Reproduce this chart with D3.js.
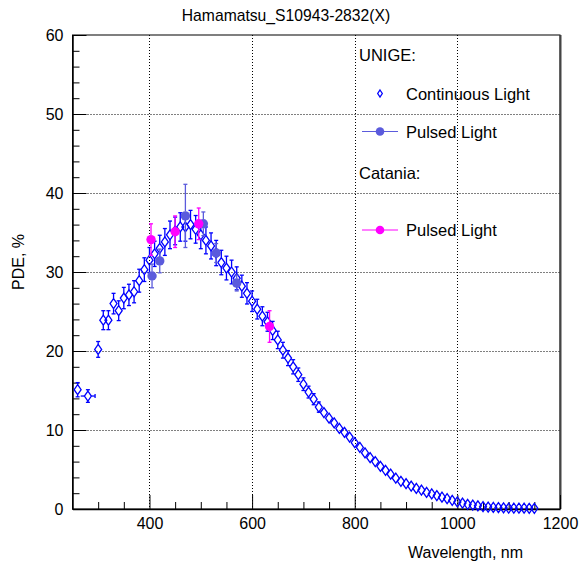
<!DOCTYPE html>
<html>
<head>
<meta charset="utf-8">
<script src="https://cdn.jsdelivr.net/npm/d3@7"></script>
<style>
  body { margin: 0; background: #fff; }
  text { font-family: "Liberation Sans", Arial, Helvetica, sans-serif; fill: #000; }
</style>
</head>
<body>
<svg id="chart" width="579" height="564"></svg>
<script>
// UNIGE continuous light
var contWl = [260, 280,
  300, 310, 320, 330, 340, 350, 360, 370, 380, 390,
  400, 410, 420, 430, 440, 450, 460, 470, 480, 490,
  500, 510, 520, 530, 540, 550, 560, 570, 580, 590,
  600, 610, 620, 630, 640, 650, 660, 670, 680, 690,
  700, 710, 720, 730, 740, 750, 760, 770, 780, 790,
  800, 810, 820, 830, 840, 850, 860, 870, 880, 890,
  900, 910, 920, 930, 940, 950, 960, 970, 980, 990,
  1000, 1010, 1020, 1030, 1040, 1050, 1060, 1070, 1080, 1090,
  1100, 1110, 1120, 1130, 1140, 1150];
var contPde = [15.1, 14.3,
  20.2, 23.9, 23.9, 26.0, 25.1, 26.7, 27.1, 27.5, 28.9, 30.3,
  31.5, 32.3, 33.0, 33.8, 34.7, 35.2, 35.7, 35.7, 36.0, 35.4,
  34.7, 34.0, 33.3, 32.4, 31.2, 30.5, 30.0, 29.2, 28.2, 27.3,
  26.3, 25.3, 24.4, 23.7, 22.6, 21.4, 20.1, 19.1, 18.0, 17.0,
  15.8, 14.8, 13.9, 12.9, 12.2, 11.5, 10.9, 10.2, 9.7, 9.1,
  8.4, 7.8, 7.1, 6.5, 6.0, 5.4, 4.9, 4.4, 3.9, 3.5,
  3.2, 2.9, 2.6, 2.4, 2.1, 1.9, 1.7, 1.5, 1.3, 1.1,
  0.9, 0.75, 0.6, 0.5, 0.4, 0.3, 0.25, 0.2, 0.18, 0.15,
  0.12, 0.1, 0.1, 0.1, 0.08, 0.08];
var contErr = [0.9, 0.8,
  1.0, 1.2, 1.2, 1.3, 1.25, 1.35, 1.35, 1.4, 1.45, 1.5,
  1.6, 1.6, 1.65, 1.7, 1.75, 1.75, 1.8, 1.8, 1.8, 1.75,
  1.75, 1.7, 1.65, 1.6, 1.55, 1.5, 1.5, 1.45, 1.4, 1.35,
  1.3, 1.25, 1.2, 1.2, 1.15, 1.1, 1.0, 0.95, 0.9, 0.85,
  0.8, 0.75, 0.7, 0.65, 0.6, 0.6, 0.55, 0.5, 0.5, 0.45,
  0.4, 0.4, 0.35, 0.3, 0.3, 0.3, 0.25, 0.2, 0.2, 0.2,
  0.15, 0.15, 0.1, 0.1, 0.1, 0.1, 0.1, 0.1, 0.1, 0.1,
  0.1, 0.1, 0.1, 0.1, 0.1, 0.1, 0.1, 0.1, 0.1, 0.1,
  0.1, 0.1, 0.1, 0.1, 0.1, 0.1];
// horizontal error only on the second point
var contXErr = [0, 14];

// UNIGE pulsed light
var unigeWl = [405, 420, 470, 505, 530, 570];
var unigePde = [29.5, 31.4, 37.1, 36.1, 32.4, 28.6];
var unigeErr = [1.5, 1.5, 4.0, 1.5, 1.2, 1.0];

// Catania pulsed light
var cataniaWl = [403, 450, 496, 634];
var cataniaPde = [34.1, 35.1, 36.1, 23.1];
var cataniaErr = [2.0, 2.0, 2.0, 2.0];

var xMajor = [400, 600, 800, 1000, 1200];
var yMajor = [0, 10, 20, 30, 40, 50, 60];

var pLeft = 72.5, pRight = 560, pTop = 35, pBottom = 509;
var blue = "#0000ff", unigeColor = "#5b5bdc", magenta = "#ff00ff";

var svg = d3.select("#chart");

var x = d3.scaleLinear().domain([250, 1200]).range([pLeft, pRight]);
var y = d3.scaleLinear().domain([0, 60]).range([pBottom, pTop]);

// grid
var grid = svg.append("g")
    .attr("stroke", "#000")
    .attr("stroke-width", 1)
    .attr("stroke-dasharray", "1,2");
grid.selectAll(".gx").data(xMajor.filter(function(d) { return d < 1200; }))
  .enter().append("line")
    .attr("x1", function(d) { return Math.round(x(d)) + 0.5; })
    .attr("x2", function(d) { return Math.round(x(d)) + 0.5; })
    .attr("y1", pTop).attr("y2", pBottom);
grid.selectAll(".gy").data(yMajor.filter(function(d) { return d > 0 && d < 60; }))
  .enter().append("line")
    .attr("y1", function(d) { return Math.round(y(d)) + 0.5; })
    .attr("y2", function(d) { return Math.round(y(d)) + 0.5; })
    .attr("x1", pLeft).attr("x2", pRight);

// frame
svg.append("rect")
    .attr("x", pLeft).attr("y", pTop)
    .attr("width", pRight - pLeft).attr("height", pBottom - pTop)
    .attr("fill", "none").attr("stroke", "#000").attr("stroke-width", 1);
svg.append("line")
    .attr("x1", pRight + 0.5).attr("x2", pRight + 0.5)
    .attr("y1", pTop).attr("y2", pBottom)
    .attr("stroke", "#444").attr("stroke-width", 2);

// x axis, ticks inside
var xMinor = d3.range(300, 1200, 50).filter(function(d) { return d % 200 != 0; });
svg.append("g")
    .attr("transform", "translate(0," + pBottom + ")")
    .call(d3.axisBottom(x).tickValues(xMinor).tickSizeInner(-7).tickSizeOuter(0).tickFormat(""))
    .call(function(g) { g.select(".domain").remove(); });
var xAxis = svg.append("g")
    .attr("transform", "translate(0," + pBottom + ")")
    .call(d3.axisBottom(x).tickValues(xMajor).tickSizeInner(-14).tickSizeOuter(0)
      .tickPadding(9).tickFormat(d3.format("d")));
xAxis.select(".domain").attr("stroke-width", 1.5);
xAxis.selectAll("text").style("font-size", "16px");
xAxis.attr("font-family", null);

// y axis
var yMinor = d3.range(2, 60, 2).filter(function(d) { return d % 10 != 0; });
svg.append("g")
    .attr("transform", "translate(" + pLeft + ",0)")
    .call(d3.axisLeft(y).tickValues(yMinor).tickSizeInner(-7).tickSizeOuter(0).tickFormat(""))
    .call(function(g) { g.select(".domain").remove(); });
var yAxis = svg.append("g")
    .attr("transform", "translate(" + pLeft + ",0)")
    .call(d3.axisLeft(y).tickValues(yMajor).tickSizeInner(-14).tickSizeOuter(0).tickPadding(9));
yAxis.select(".domain").attr("stroke-width", 1.5);
yAxis.selectAll("text").style("font-size", "16px");
yAxis.attr("font-family", null);

// titles
svg.append("text")
    .attr("x", 286).attr("y", 21)
    .style("text-anchor", "middle")
    .style("font-size", "15.7px")
    .text("Hamamatsu_S10943-2832(X)");
svg.append("text")
    .attr("x", 523).attr("y", 558)
    .style("text-anchor", "end")
    .style("font-size", "16px")
    .text("Wavelength, nm");
svg.append("text")
    .attr("transform", "translate(24,262) rotate(-90)")
    .style("text-anchor", "middle")
    .style("font-size", "16px")
    .text("PDE, %");

// error bars drawn outside the marker, with small caps
function errorBars(g, xs, ys, es, color, gap) {
  var cap = 2;
  xs.forEach(function(wl, i) {
    var cx = x(wl), cy = y(ys[i]);
    var yt = y(ys[i] + es[i]), yb = y(ys[i] - es[i]);
    if (cy - yt > gap) {
      g.append("line").attr("x1", cx).attr("x2", cx).attr("y1", yt).attr("y2", cy - gap);
      g.append("line").attr("x1", cx - cap).attr("x2", cx + cap).attr("y1", yt).attr("y2", yt);
    }
    if (yb - cy > gap) {
      g.append("line").attr("x1", cx).attr("x2", cx).attr("y1", cy + gap).attr("y2", yb);
      g.append("line").attr("x1", cx - cap).attr("x2", cx + cap).attr("y1", yb).attr("y2", yb);
    }
  });
  g.attr("stroke", color).attr("stroke-width", 1.3);
}

function diamond(cx, cy, w, h) {
  return "M" + cx + "," + (cy - h) + "L" + (cx + w) + "," + cy +
    "L" + cx + "," + (cy + h) + "L" + (cx - w) + "," + cy + "Z";
}

// continuous light
var cont = svg.append("g");
errorBars(cont.append("g"), contWl, contPde, contErr, blue, 5);
contXErr.forEach(function(e, i) {
  if (!e) return;
  var cy = y(contPde[i]);
  cont.append("line")
      .attr("x1", x(contWl[i] - e)).attr("x2", x(contWl[i]) - 3.5)
      .attr("y1", cy).attr("y2", cy);
  cont.append("line")
      .attr("x1", x(contWl[i]) + 3.5).attr("x2", x(contWl[i] + e))
      .attr("y1", cy).attr("y2", cy);
  cont.append("line")
      .attr("x1", x(contWl[i] + e)).attr("x2", x(contWl[i] + e))
      .attr("y1", cy - 2).attr("y2", cy + 2);
});
cont.selectAll("line").attr("stroke", blue).attr("stroke-width", 1.3);
cont.selectAll(".m").data(contWl)
  .enter().append("path")
    .attr("d", function(d, i) { return diamond(x(d), y(contPde[i]), 3.5, 5); })
    .attr("fill", "none")
    .attr("stroke", blue)
    .attr("stroke-width", 1.3);

// UNIGE pulsed
var unige = svg.append("g");
errorBars(unige.append("g"), unigeWl, unigePde, unigeErr, unigeColor, 4.5);
unige.selectAll("circle").data(unigeWl)
  .enter().append("circle")
    .attr("cx", function(d) { return x(d); })
    .attr("cy", function(d, i) { return y(unigePde[i]); })
    .attr("r", 4.7)
    .attr("fill", unigeColor);

// Catania pulsed
var catania = svg.append("g");
errorBars(catania.append("g"), cataniaWl, cataniaPde, cataniaErr, magenta, 4.5);
catania.selectAll("circle").data(cataniaWl)
  .enter().append("circle")
    .attr("cx", function(d) { return x(d); })
    .attr("cy", function(d, i) { return y(cataniaPde[i]); })
    .attr("r", 4.7)
    .attr("fill", magenta);

// legend
var legend = svg.append("g").style("font-size", "16.5px");
legend.append("text").attr("x", 359).attr("y", 61).text("UNIGE:");
legend.append("path")
    .attr("d", diamond(380, 93.5, 2.3, 3.5))
    .attr("fill", "none").attr("stroke", blue).attr("stroke-width", 1.3);
legend.append("text").attr("x", 406).attr("y", 99.5).text("Continuous Light");
legend.append("line")
    .attr("x1", 362).attr("x2", 398).attr("y1", 131.5).attr("y2", 131.5)
    .attr("stroke", unigeColor).attr("stroke-width", 1.2);
legend.append("circle").attr("cx", 380).attr("cy", 131.5).attr("r", 4.3).attr("fill", unigeColor);
legend.append("text").attr("x", 406).attr("y", 137.5).text("Pulsed Light");
legend.append("text").attr("x", 359).attr("y", 178.5).text("Catania:");
legend.append("line")
    .attr("x1", 362).attr("x2", 398).attr("y1", 230).attr("y2", 230)
    .attr("stroke", magenta).attr("stroke-width", 1.2);
legend.append("circle").attr("cx", 380).attr("cy", 230).attr("r", 4.3).attr("fill", magenta);
legend.append("text").attr("x", 406).attr("y", 236).text("Pulsed Light");
</script>
</body>
</html>
